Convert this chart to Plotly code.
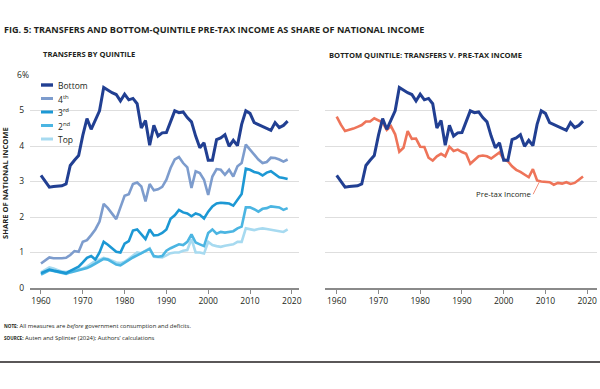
import plotly.graph_objects as go

years = list(range(1960, 2020))

bottom = [3.17, 3.00, 2.84, 2.86, 2.87, 2.88, 2.93, 3.45, 3.60, 3.73,
          4.30, 4.77, 4.47, 4.75, 4.99, 5.65, 5.57, 5.50, 5.45, 5.27,
          5.46, 5.30, 5.34, 5.19, 4.51, 4.72, 4.02, 4.58, 4.28, 4.37,
          4.38, 4.70, 4.99, 4.94, 4.96, 4.80, 4.68, 4.28, 3.95, 4.09,
          3.60, 3.60, 4.18, 4.23, 4.32, 3.99, 4.16, 4.01, 4.61, 4.99,
          4.92, 4.66, 4.60, 4.56, 4.48, 4.44, 4.66, 4.52, 4.58, 4.70]

fourth = [0.69, 0.78, 0.86, 0.84, 0.83, 0.84, 0.85, 0.93, 1.04, 1.02,
          1.30, 1.35, 1.49, 1.65, 1.87, 2.37, 2.25, 2.11, 1.94, 2.27,
          2.60, 2.64, 2.93, 2.97, 2.86, 2.44, 2.93, 2.75, 2.78, 2.85,
          3.05, 3.38, 3.62, 3.69, 3.52, 3.40, 2.82, 3.29, 3.24, 3.05,
          2.62, 3.14, 3.35, 3.33, 3.19, 3.33, 3.14, 3.43, 3.52, 4.04,
          3.90, 3.73, 3.62, 3.52, 3.55, 3.67, 3.66, 3.62, 3.56, 3.62]

third = [0.42, 0.47, 0.52, 0.49, 0.46, 0.44, 0.42, 0.48, 0.53, 0.60,
         0.72, 0.85, 0.90, 0.80, 1.00, 1.30, 1.22, 1.12, 1.02, 1.00,
         1.25, 1.32, 1.62, 1.65, 1.50, 1.38, 1.65, 1.48, 1.49, 1.55,
         1.65, 1.95, 2.05, 2.20, 2.13, 2.10, 2.02, 2.10, 2.06, 1.96,
         2.15, 2.30, 2.38, 2.40, 2.39, 2.38, 2.32, 2.47, 2.65, 3.36,
         3.33, 3.27, 3.24, 3.17, 3.25, 3.29, 3.20, 3.12, 3.10, 3.07]

second = [0.38, 0.44, 0.50, 0.48, 0.45, 0.43, 0.40, 0.44, 0.47, 0.49,
          0.52, 0.56, 0.62, 0.68, 0.75, 0.82, 0.80, 0.72, 0.66, 0.64,
          0.72, 0.80, 0.86, 0.92, 0.98, 1.02, 1.10, 0.90, 0.88, 0.90,
          1.05, 1.12, 1.18, 1.23, 1.21, 1.30, 1.51, 1.28, 1.23, 1.18,
          1.55, 1.65, 1.53, 1.58, 1.56, 1.57, 1.60, 1.68, 1.73, 2.27,
          2.27, 2.22, 2.15, 2.23, 2.25, 2.30, 2.28, 2.27, 2.20, 2.25]

top = [0.44, 0.50, 0.58, 0.55, 0.50, 0.46, 0.45, 0.47, 0.50, 0.52,
       0.55, 0.60, 0.68, 0.76, 0.80, 0.85, 0.82, 0.76, 0.72, 0.70,
       0.74, 0.82, 0.92, 1.00, 0.98, 1.05, 1.12, 0.88, 0.86, 0.86,
       0.92, 0.98, 1.00, 1.00, 1.05, 1.07, 1.38, 1.00, 1.00, 0.97,
       1.30, 1.21, 1.18, 1.16, 1.19, 1.21, 1.23, 1.30, 1.30, 1.68,
       1.66, 1.63, 1.66, 1.68, 1.66, 1.63, 1.62, 1.60, 1.58, 1.65]

pretax = [4.83, 4.60, 4.42, 4.45, 4.49, 4.54, 4.59, 4.69, 4.69, 4.78,
          4.71, 4.66, 4.45, 4.56, 4.33, 3.84, 3.95, 4.42, 4.20, 4.21,
          3.98, 3.97, 3.67, 3.59, 3.71, 3.78, 3.71, 3.98, 3.86, 3.90,
          3.83, 3.78, 3.50, 3.62, 3.71, 3.73, 3.71, 3.65, 3.73, 3.82,
          3.63, 3.57, 3.43, 3.33, 3.27, 3.19, 3.12, 3.35, 3.03, 3.00,
          2.98, 2.98, 2.91, 2.96, 2.94, 2.98, 2.93, 2.96, 3.05, 3.14]

series_names = ["Bottom", "4<sup>th</sup>", "3<sup>rd</sup>", "2<sup>nd</sup>", "Top"]
series_vals = [bottom, fourth, third, second, top]
series_colors = ["#213f92", "#7d9ccd", "#1c98d4", "#4bb5e2", "#a7daf0"]
series_widths = [3, 2.6, 2.6, 2.6, 2.6]
pretax_color = "#ee7459"

x_ticks = [1960, 1970, 1980, 1990, 2000, 2010, 2020]
y_ticks = [0, 1, 2, 3, 4, 5, 6]
y_ticktext = ["0\u2007", "1\u2007", "2\u2007", "3\u2007", "4\u2007", "5\u2007", "6%"]

W, H = 600, 389
MT, MB = 75, 101
PH = H - MT - MB
FONT = "Open Sans"
TXT = "#231f20"


def px(x):
    return x / W


def py(y):
    return (H - MB - y) / PH


fig = go.Figure()

# left panel: draw in reverse so Bottom sits on top
for name, vals, col, w in reversed(list(zip(series_names, series_vals, series_colors, series_widths))):
    fig.add_trace(go.Scatter(x=years, y=vals, mode="lines", name=name,
                             line=dict(color=col, width=w), xaxis="x", yaxis="y",
                             showlegend=False))

# right panel
fig.add_trace(go.Scatter(x=years, y=pretax, mode="lines", name="Pre-tax Income",
                         line=dict(color=pretax_color, width=2.6), xaxis="x2", yaxis="y2",
                         showlegend=False))
fig.add_trace(go.Scatter(x=years, y=bottom, mode="lines", name="Bottom",
                         line=dict(color=series_colors[0], width=3), xaxis="x2", yaxis="y2",
                         showlegend=False))

xcommon = dict(tickvals=x_ticks, ticks="outside", ticklen=4, tickwidth=1.2, tickcolor="#8a8a8a",
               showline=True, linecolor="#8a8a8a", linewidth=1.5, showgrid=False, zeroline=False,
               automargin=False, tickfont=dict(family=FONT, size=8.5, color=TXT))
ycommon = dict(range=[0, 6], tickvals=y_ticks, showgrid=True, gridcolor="#dedede", gridwidth=1,
               zeroline=False, showline=False, ticks="", automargin=False)

fig.update_layout(
    width=W, height=H,
    margin=dict(l=0, r=0, t=MT, b=MB),
    paper_bgcolor="white", plot_bgcolor="white",
    showlegend=False,
    xaxis=dict(domain=[px(30), px(299)], range=[1957.37, 2021.72], anchor="y", **xcommon),
    yaxis=dict(domain=[0, 1], anchor="x", ticktext=y_ticktext, showticklabels=True,
               tickfont=dict(family=FONT, size=8.5, color=TXT), **ycommon),
    xaxis2=dict(domain=[px(325), px(597)], range=[1957.2, 2022.35], anchor="y2", **xcommon),
    yaxis2=dict(domain=[0, 1], anchor="x2", showticklabels=False, **ycommon),
)

ann = []
ann.append(dict(text="<b>FIG. 5: TRANSFERS AND BOTTOM-QUINTILE PRE-TAX INCOME AS SHARE OF NATIONAL INCOME</b>",
                x=px(2), y=py(29), xref="paper", yref="paper", xanchor="left", yanchor="middle",
                showarrow=False, font=dict(family=FONT, size=9.1, color=TXT)))
ann.append(dict(text="<b>TRANSFERS BY QUINTILE</b>", x=px(41), y=py(54), xref="paper", yref="paper",
                xanchor="left", yanchor="middle", showarrow=False,
                font=dict(family=FONT, size=7.6, color=TXT)))
ann.append(dict(text="<b>BOTTOM QUINTILE: TRANSFERS V. PRE-TAX INCOME</b>", x=px(327), y=py(55),
                xref="paper", yref="paper", xanchor="left", yanchor="middle", showarrow=False,
                font=dict(family=FONT, size=7.6, color=TXT)))
ann.append(dict(text="<b>SHARE OF NATIONAL INCOME</b>", x=px(5), y=py(183), xref="paper", yref="paper",
                xanchor="center", yanchor="middle", textangle=-90, showarrow=False,
                font=dict(family=FONT, size=7.6, color=TXT)))
ann.append(dict(text="<b><span style='font-size:4.6px'>NOTE:</span></b> All measures are <i>before</i> government consumption and deficits.",
                x=px(2), y=py(326), xref="paper", yref="paper", xanchor="left", yanchor="middle",
                showarrow=False, font=dict(family=FONT, size=5.9, color=TXT)))
ann.append(dict(text="<b><span style='font-size:4.6px'>SOURCE:</span></b> Auten and Splinter (2024); Authors\u2019 calculations",
                x=px(2), y=py(338), xref="paper", yref="paper", xanchor="left", yanchor="middle",
                showarrow=False, font=dict(family=FONT, size=5.9, color=TXT)))
# pre-tax label
ann.append(dict(text="Pre-tax Income", x=years[48] + 0.5, y=pretax[48] - 0.05, xref="x2", yref="y2",
                showarrow=True, arrowhead=0, arrowwidth=0.8, arrowcolor=pretax_color,
                ax=-6, ay=12, xanchor="right", yanchor="middle",
                font=dict(family=FONT, size=7.8, color=TXT)))

# custom legend
shapes = []
leg_y = [85, 98.5, 112, 125.5, 139]
for name, col, w, yy in zip(series_names, series_colors, series_widths, leg_y):
    shapes.append(dict(type="line", xref="paper", yref="paper", x0=px(41), x1=px(53),
                       y0=py(yy), y1=py(yy), line=dict(color=col, width=w + 0.4)))
    ann.append(dict(text=name, x=px(56), y=py(yy), xref="paper", yref="paper", xanchor="left",
                    yanchor="middle", showarrow=False, font=dict(family=FONT, size=8.5, color=TXT)))

# bottom rule
shapes.append(dict(type="line", xref="paper", yref="paper", x0=0, x1=1, y0=py(362), y1=py(362),
                   line=dict(color="#231f20", width=1.6)))

fig.update_layout(annotations=ann, shapes=shapes)
fig.write_html("out.html", config={"displayModeBar": False},
               post_script="document.body.style.margin='0';document.body.style.overflow='hidden';")
